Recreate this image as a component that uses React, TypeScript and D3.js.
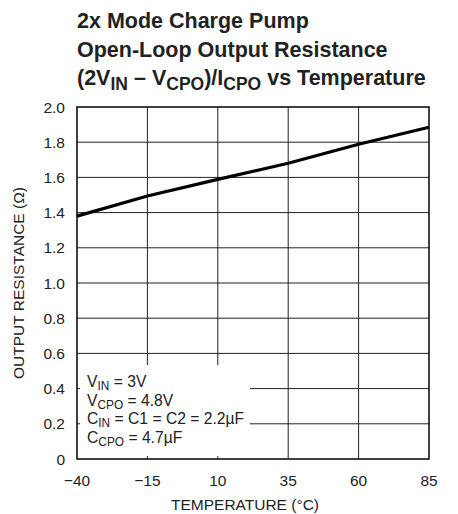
import React from 'react';
import { scaleLinear, line } from 'd3';

const width = 458;
const height = 514;

const temps = [-40, -15, 10, 35, 60, 85];
const resistance = [1.38, 1.494, 1.589, 1.68, 1.788, 1.885];
const xTicks = [-40, -15, 10, 35, 60, 85];
const yTicks = [0, 0.2, 0.4, 0.6, 0.8, 1.0, 1.2, 1.4, 1.6, 1.8, 2.0];
const notes = [
  ['V', 'IN', ' = 3V'],
  ['V', 'CPO', ' = 4.8V'],
  ['C', 'IN', ' = C1 = C2 = 2.2\u00b5F'],
  ['C', 'CPO', ' = 4.7\u00b5F'],
];

const font = '"Liberation Sans Narrow", "Arial Narrow", "Liberation Sans", sans-serif';

const left = 77;
const right = 429;
const top = 107;
const bottom = 459;

const x = scaleLinear().domain([-40, 85]).range([left, right]);
const y = scaleLinear().domain([0, 2]).range([bottom, top]);

const path = line<number>()
  .x((d, i) => x(temps[i]))
  .y(d => y(d));

const fmt = (v: number) => (v === 0 ? '0' : v.toFixed(1));
const fmtX = (v: number) => (v < 0 ? '\u2212' + Math.abs(v) : String(v));

// legend box hides parts of the grid in the lower left
const gridStartX = (v: number) => {
  if (v === 0.4) return 250;
  if (v === 0.2) return 250;
  return left;
};
const gridEndY = (t: number) => (t === -15 || t === 10 ? 365 : bottom);

const App = () => {
  return (
    <svg
      width={width}
      height={height}
      style={{ position: 'absolute', left: 0, top: 0, background: '#fff' }}
      fontFamily={font}
    >
      <g fontWeight="bold" fontSize={21.5} fill="#222">
        <text x={77} y={28}>2x Mode Charge Pump</text>
        <text x={77} y={57}>Open-Loop Output Resistance</text>
        <text x={77} y={85}>
          (2V<tspan fontSize={17.5} dy={5}>IN</tspan>
          <tspan dy={-5}> {'\u2013'} V</tspan>
          <tspan fontSize={17.5} dy={5}>CPO</tspan>
          <tspan dy={-5}>)/I</tspan>
          <tspan fontSize={17.5} dy={5}>CPO</tspan>
          <tspan dy={-5}> vs Temperature</tspan>
        </text>
      </g>

      {/* grid */}
      <g stroke="#222" strokeWidth={1}>
        {yTicks.filter(v => v > 0 && v < 2).map(v => (
          <line key={v} x1={gridStartX(v)} x2={right} y1={y(v)} y2={y(v)} />
        ))}
        {xTicks.filter(t => t > -40 && t < 85).map(t => (
          <g key={t}>
            <line x1={x(t)} x2={x(t)} y1={top} y2={gridEndY(t)} />
            {gridEndY(t) !== bottom && (
              <line x1={x(t)} x2={x(t)} y1={bottom - 3} y2={bottom} />
            )}
          </g>
        ))}
        <line x1={left} x2={left + 3} y1={y(0.4)} y2={y(0.4)} />
        <line x1={left} x2={left + 3} y1={y(0.2)} y2={y(0.2)} />
      </g>
      <rect x={left} y={top} width={right - left} height={bottom - top}
        fill="none" stroke="#111" strokeWidth={1.6} />

      <path d={path(resistance) || ''} fill="none" stroke="#000" strokeWidth={3.2} />

      {/* tick labels */}
      <g fontSize={15.5} fill="#222">
        {yTicks.map(v => (
          <text key={v} x={65} y={y(v)} dy="0.36em" textAnchor="end">{fmt(v)}</text>
        ))}
        {xTicks.map(t => (
          <text key={t} x={x(t)} y={486} textAnchor="middle">{fmtX(t)}</text>
        ))}
      </g>

      <text x={245} y={510} fontSize={15.5} textAnchor="middle" fill="#222">
        TEMPERATURE ({'\u00b0'}C)
      </text>
      <text
        transform={`translate(24,${283}) rotate(-90)`}
        fontSize={15.5}
        textAnchor="middle"
        fill="#222"
      >
        OUTPUT RESISTANCE ({'\u03a9'})
      </text>

      <g fontSize={16.5} fill="#222" transform="translate(87,0) scale(0.95,1)">
        {notes.map((n, i) => (
          <text key={i} x={0} y={387 + i * 18.6}>
            {n[0]}
            <tspan fontSize={12.5} dy={3}>{n[1]}</tspan>
            <tspan dy={-3}>{n[2]}</tspan>
          </text>
        ))}
      </g>
    </svg>
  );
};

export default App;
